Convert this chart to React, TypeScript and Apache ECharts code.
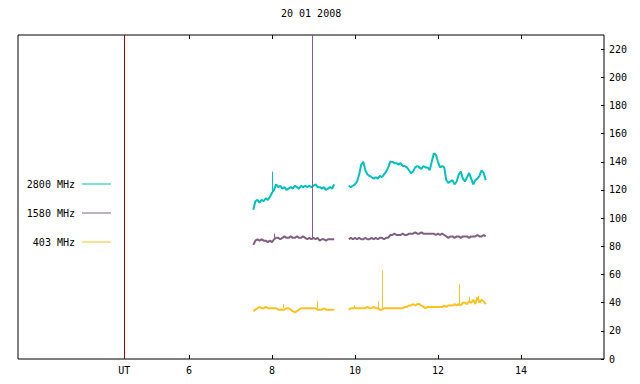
import React, { useEffect, useRef } from "react";
import * as echarts from "echarts";

const chartTitle = "20 01 2008";
const seriesNames = ["2800 MHz", "1580 MHz", "403 MHz"];
const seriesColors = ["#00c0c0", "#806080", "#ffc020"];
const utColor = "#990000";

// time grid (hours UT) of the two observing segments
const seg1Start = 7.55;
const seg2Start = 9.85;
const stepH = 0.05;

// 2800 MHz
const f2800a = [106, 112, 113, 111, 113, 112, 114, 113, 115, 118, 120, 124, 122, 123, 121, 122, 120, 121, 122, 121, 123, 122, 121, 123, 122, 123, 122, 123, 122, 123, 124, 122, 122, 121, 122, 120, 121, 122, 121, 124];
const f2800b = [123, 122, 123, 124, 126, 131, 138, 140, 134, 131, 130, 129, 128, 129, 128, 130, 129, 131, 133, 136, 140, 140, 139, 139, 138, 139, 137, 137, 136, 134, 132, 133, 136, 137, 136, 135, 137, 136, 136, 134, 140, 146, 145, 140, 136, 137, 136, 127, 125, 126, 127, 124, 126, 131, 133, 128, 126, 129, 132, 128, 124, 127, 128, 130, 134, 132, 127];
// 1580 MHz
const f1580a = [81, 84, 85, 84, 85, 84, 84, 83, 84, 83, 85, 86, 86, 85, 86, 87, 86, 86, 87, 86, 86, 87, 86, 86, 87, 86, 85, 86, 85, 86, 85, 86, 84, 85, 85, 84, 85, 85, 85, 85];
const f1580b = [85, 86, 85, 86, 85, 86, 85, 85, 86, 85, 85, 86, 85, 86, 85, 86, 86, 85, 86, 86, 88, 88, 89, 88, 88, 88, 89, 88, 88, 89, 89, 89, 90, 89, 89, 90, 89, 89, 89, 89, 89, 89, 88, 89, 88, 89, 88, 87, 86, 87, 87, 86, 87, 87, 86, 87, 87, 87, 86, 87, 87, 87, 88, 87, 87, 88, 87];
// 403 MHz
const f403a = [34, 35, 36, 37, 36, 36, 37, 36, 36, 36, 36, 36, 35, 35, 35, 35, 36, 36, 35, 34, 33, 34, 35, 36, 36, 36, 36, 36, 36, 36, 36, 35, 35, 35, 36, 35, 35, 35, 35, 35];
const f403b = [35, 36, 36, 36, 36, 36, 36, 36, 36, 37, 36, 36, 37, 36, 36, 35, 35, 36, 36, 36, 36, 36, 36, 36, 36, 36, 36, 37, 37, 38, 38, 39, 38, 39, 39, 38, 37, 36, 37, 37, 37, 37, 37, 37, 37, 37, 38, 37, 38, 38, 38, 39, 38, 39, 38, 40, 40, 39, 41, 40, 42, 39, 44, 40, 42, 41, 39];

// short bursts: [time, base, peak]
const spikes2800 = [[8.0, 118, 133]];
const spikes1580 = [[8.05, 86, 89], [8.96, 85, 230]];
const spikes403 = [[8.28, 36, 39], [9.08, 36, 41], [9.99, 36, 38], [10.57, 36, 41], [10.66, 36, 63], [12.51, 39, 53], [12.75, 40, 44], [12.97, 40, 45]];

const utMarker = 4.44;
const xTicks = [6, 8, 10, 12, 14];
const yTicks = [0, 20, 40, 60, 80, 100, 120, 140, 160, 180, 200, 220];
const xMin = 1.88;
const xMax = 16;
const yMin = 0;
const yMax = 230;

const FONT = "'DejaVu Sans Mono', monospace";

function toPairs(a: number[], b: number[]) {
  const out: any[] = [];
  a.forEach((v, i) => out.push([+(seg1Start + i * stepH).toFixed(3), v]));
  const end1 = seg1Start + (a.length - 1) * stepH;
  out.push([(end1 + seg2Start) / 2, "-"]);
  b.forEach((v, i) => out.push([+(seg2Start + i * stepH).toFixed(3), v]));
  return out;
}

function spikeLines(sp: number[][]) {
  return sp.map(([t, lo, hi]) => [{ coord: [t, lo] }, { coord: [t, hi] }]);
}

export default function App() {
  const ref = useRef<HTMLDivElement>(null);
  useEffect(() => {
    document.body.style.margin = "0";
    if (!ref.current) return;
    const chart = echarts.init(ref.current, undefined, { renderer: "svg" });
    const datas = [toPairs(f2800a, f2800b), toPairs(f1580a, f1580b), toPairs(f403a, f403b)];
    const spikes = [spikes2800, spikes1580, spikes403];
    const axisText = { color: "#000", fontFamily: FONT, fontSize: 10 };
    const xAxisBase = {
      type: "value",
      min: xMin,
      max: xMax,
      axisLine: { show: false },
      splitLine: { show: false },
      axisTick: { show: true, inside: true, length: 4, customValues: xTicks, lineStyle: { color: "#000" } },
    };
    const legendY = [184, 213, 242];
    chart.setOption({
      animation: false,
      backgroundColor: "#fff",
      title: {
        text: chartTitle,
        left: 281,
        top: 8,
        textStyle: { fontFamily: FONT, fontSize: 10, fontWeight: "normal", color: "#000" },
        padding: 0,
      },
      grid: { left: 18, right: 36, top: 35, bottom: 25, show: true, borderColor: "#000", borderWidth: 1, backgroundColor: "transparent" },
      xAxis: [
        {
          ...xAxisBase,
          position: "bottom",
          axisLabel: {
            ...axisText,
            margin: 6,
            customValues: [utMarker, ...xTicks],
            formatter: (v: number) => (Math.abs(v - utMarker) < 0.01 ? "UT" : String(v)),
          },
        },
        { ...xAxisBase, position: "top", axisLabel: { show: false } },
      ],
      yAxis: {
        type: "value",
        min: yMin,
        max: yMax,
        position: "right",
        axisLine: { show: false },
        splitLine: { show: false },
        axisTick: { show: true, inside: true, length: 3, customValues: yTicks, lineStyle: { color: "#000" } },
        axisLabel: { ...axisText, margin: 5, customValues: yTicks },
      },
      tooltip: { show: false },
      series: seriesNames.map((name, i) => ({
        name,
        type: "line",
        xAxisIndex: 0,
        data: datas[i],
        showSymbol: false,
        symbol: "none",
        connectNulls: false,
        clip: true,
        lineStyle: { color: seriesColors[i], width: 2 },
        itemStyle: { color: seriesColors[i] },
        z: 3 - i,
        markLine: {
          silent: true,
          symbol: ["none", "none"],
          label: { show: false },
          lineStyle: { color: seriesColors[i], width: 1, type: "solid" },
          data: [
            ...spikeLines(spikes[i]),
            ...(i === 2 ? [{ xAxis: utMarker, lineStyle: { color: utColor, width: 1, type: "solid" } }] : []),
          ],
        },
      })),
      graphic: seriesNames.flatMap((name, i) => [
        {
          type: "text",
          x: 75,
          y: legendY[i],
          style: { text: name, fill: "#000", font: `10px ${FONT}`, textAlign: "right", textVerticalAlign: "middle" },
        },
        {
          type: "line",
          shape: { x1: 82, y1: legendY[i], x2: 111, y2: legendY[i] },
          style: { stroke: seriesColors[i], lineWidth: 1 },
        },
      ]),
    });
    return () => chart.dispose();
  }, []);
  return <div ref={ref} style={{ width: 640, height: 384 }} />;
}
